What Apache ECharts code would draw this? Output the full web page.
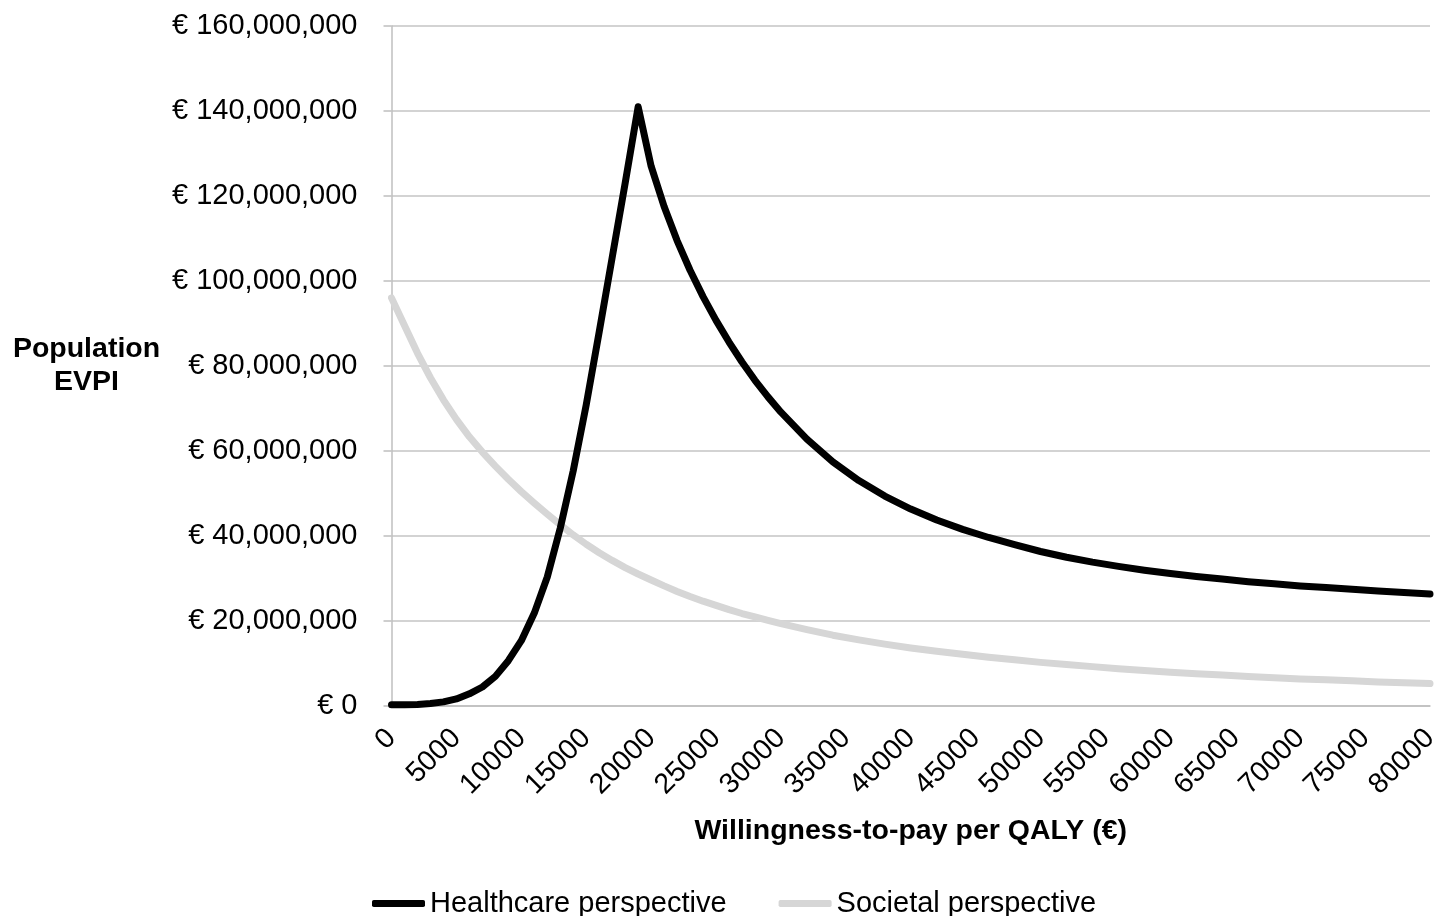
<!DOCTYPE html>
<html>
<head>
<meta charset="utf-8">
<script src="https://cdn.jsdelivr.net/npm/echarts@6/dist/echarts.min.js"></script>
<style>
html,body{margin:0;padding:0;background:#fff;}
#c{width:1448px;height:916px;}
</style>
</head>
<body>
<div id="c"></div>
<script>
// Willingness-to-pay per QALY (€)
const wtp = [
  0,1000,2000,3000,4000,5000,6000,7000,8000,9000,
  10000,11000,12000,13000,14000,15000,16000,17000,18000,19000,
  20000,21000,22000,23000,24000,25000,26000,27000,28000,29000,
  30000,32000,34000,36000,38000,40000,42000,44000,46000,48000,
  50000,52000,54000,56000,58000,60000,62000,64000,66000,68000,
  70000,72000,74000,76000,78000,80000
];
// Population EVPI, millions of €
const healthcare = [
  0.2,0.2,0.3,0.5,0.9,1.6,2.8,4.4,6.9,10.6,
  15.3,21.8,30.3,41.8,55.3,70.8,88,105.5,123,141,
  127,117.5,109.5,102.5,96.3,90.7,85.6,80.9,76.6,72.7,
  69.1,62.75,57.4,53.0,49.35,46.3,43.7,41.5,39.6,37.9,
  36.3,34.95,33.8,32.8,31.9,31.1,30.4,29.8,29.2,28.7,
  28.2,27.8,27.4,27.0,26.65,26.3
];
const societal = [
  96,89.5,83,77.2,72,67.4,63.3,59.7,56.4,53.3,
  50.4,47.7,45.1,42.6,40.2,38.0,36.0,34.2,32.5,31.0,
  29.6,28.2,26.9,25.7,24.6,23.6,22.6,21.7,20.9,20.1,
  19.3,17.9,16.6,15.5,14.5,13.6,12.8,12.1,11.4,10.8,
  10.2,9.7,9.2,8.7,8.3,7.9,7.5,7.2,6.9,6.6,
  6.3,6.1,5.9,5.6,5.4,5.2
];
const seriesNames = ['Healthcare perspective', 'Societal perspective'];
const xTitle = 'Willingness-to-pay per QALY (€)';
const yTitle = 'Population\nEVPI';

const font = "'Liberation Sans', Arial, sans-serif";
const chart = echarts.init(document.getElementById('c'), null, {renderer: 'canvas'});
const toPairs = arr => wtp.map((x, i) => [x, arr[i] * 1e6]);
const fmtEuro = v => '€ ' + Math.round(v).toString().replace(/\B(?=(\d{3})+(?!\d))/g, ',');

chart.setOption({
  animation: false,
  backgroundColor: '#ffffff',
  grid: {left: 391.5, right: 18, top: 26, bottom: 210.3, containLabel: false},
  legend: {
    data: seriesNames,
    left: 367,
    top: 884,
    itemWidth: 53,
    itemHeight: 7,
    itemGap: 52,
    icon: 'roundRect',
    textStyle: {fontFamily: font, fontSize: 29, color: '#000'}
  },
  xAxis: {
    type: 'value',
    min: 0, max: 80000, interval: 5000,
    name: xTitle,
    nameLocation: 'middle',
    nameGap: 111,
    nameTextStyle: {fontFamily: font, fontSize: 28.5, fontWeight: 'bold', color: '#000'},
    axisLine: {show: true, lineStyle: {color: '#bfbfbf', width: 1.5}},
    axisTick: {show: false},
    splitLine: {show: false},
    axisLabel: {rotate: 45, margin: 28, fontFamily: font, fontSize: 28.5, color: '#000',
      formatter: v => String(v)}
  },
  yAxis: {
    type: 'value',
    min: 0, max: 160000000, interval: 20000000,
    name: yTitle,
    nameLocation: 'middle',
    nameRotate: 0,
    nameGap: 305,
    nameTextStyle: {fontFamily: font, fontSize: 28.5, fontWeight: 'bold', color: '#000', align: 'center', verticalAlign: 'middle', lineHeight: 33},
    axisLine: {show: true, lineStyle: {color: '#bfbfbf', width: 1.5}},
    axisTick: {show: true, length: 8, lineStyle: {color: '#bfbfbf', width: 1.5}},
    splitLine: {show: true, lineStyle: {color: '#c4c4c4', width: 1.5}},
    axisLabel: {margin: 34, fontFamily: font, fontSize: 29, color: '#000', formatter: fmtEuro}
  },
  series: [
    {
      name: seriesNames[0], type: 'line', data: toPairs(healthcare),
      showSymbol: false, symbol: 'none', smooth: false,
      lineStyle: {color: '#000000', width: 7, cap: 'round', join: 'round'},
      itemStyle: {color: '#000000'}, z: 3
    },
    {
      name: seriesNames[1], type: 'line', data: toPairs(societal),
      showSymbol: false, symbol: 'none', smooth: false,
      lineStyle: {color: '#d6d6d6', width: 7, cap: 'round', join: 'round'},
      itemStyle: {color: '#d6d6d6'}, z: 2
    }
  ]
});
</script>
</body>
</html>
